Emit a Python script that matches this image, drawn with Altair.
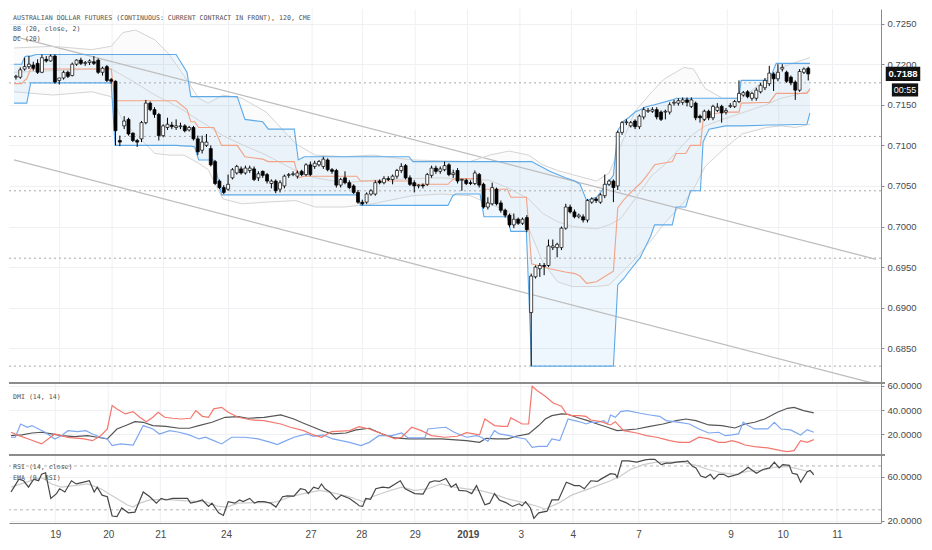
import altair as alt
import pandas as pd

# ---------------- data ----------------
# 120-minute candles: (open, high, low, close)
candles = [
    (.7184, .7187, .7181, .7185), (.7184, .7196, .7182, .7193), (.7194, .7208, .7192, .7197),
    (.7197, .7210, .7194, .7200), (.7199, .7203, .7192, .7195), (.7201, .7206, .7188, .7190),
    (.7190, .7212, .7189, .7208), (.7206, .7210, .7202, .7204), (.7204, .7212, .7203, .7210),
    (.7210, .7212, .7176, .7178), (.7180, .7183, .7175, .7183), (.7183, .7192, .7181, .7190),
    (.7190, .7192, .7183, .7185), (.7186, .7202, .7185, .7200), (.7200, .7206, .7198, .7205),
    (.7205, .7208, .7199, .7201), (.7201, .7204, .7198, .7202), (.7202, .7206, .7199, .7204),
    (.7203, .7210, .7199, .7201), (.7205, .7207, .7188, .7190), (.7190, .7197, .7186, .7195),
    (.7197, .7199, .7178, .7180), (.7181, .7183, .7176, .7179), (.7179, .7180, .7100, .7118),
    (.7106, .7112, .7099, .7104), (.7124, .7136, .7120, .7130), (.7132, .7134, .7112, .7114),
    (.7115, .7116, .7104, .7106), (.7106, .7108, .7098, .7104), (.7108, .7130, .7104, .7128),
    (.7128, .7156, .7126, .7152), (.7152, .7154, .7142, .7144), (.7144, .7147, .7134, .7138),
    (.7138, .7140, .7106, .7112), (.7112, .7126, .7110, .7124), (.7122, .7134, .7119, .7126),
    (.7125, .7129, .7120, .7123), (.7122, .7132, .7119, .7124), (.7123, .7128, .7120, .7124),
    (.7124, .7126, .7116, .7118), (.7119, .7124, .7117, .7122), (.7122, .7124, .7106, .7108),
    (.7108, .7112, .7088, .7092), (.7094, .7112, .7090, .7104), (.7100, .7114, .7098, .7104),
    (.7096, .7100, .7074, .7076), (.7080, .7082, .7051, .7053), (.7056, .7058, .7046, .7048),
    (.7048, .7051, .7040, .7042), (.7046, .7064, .7044, .7052), (.7060, .7072, .7058, .7070),
    (.7066, .7076, .7064, .7074), (.7071, .7074, .7064, .7066), (.7066, .7075, .7064, .7072),
    (.7069, .7075, .7066, .7072), (.7071, .7074, .7056, .7058), (.7060, .7068, .7056, .7065),
    (.7068, .7069, .7060, .7063), (.7064, .7066, .7053, .7056), (.7053, .7058, .7047, .7056),
    (.7056, .7058, .7041, .7044), (.7046, .7057, .7042, .7054), (.7050, .7064, .7047, .7062),
    (.7063, .7066, .7060, .7064), (.7064, .7068, .7062, .7065), (.7062, .7069, .7059, .7066),
    (.7068, .7070, .7062, .7064), (.7064, .7078, .7062, .7076), (.7076, .7080, .7062, .7064),
    (.7074, .7081, .7071, .7078), (.7076, .7082, .7074, .7080), (.7074, .7086, .7071, .7083),
    (.7082, .7084, .7068, .7070), (.7070, .7072, .7065, .7068), (.7069, .7071, .7048, .7051),
    (.7051, .7060, .7048, .7058), (.7060, .7068, .7052, .7054), (.7054, .7057, .7046, .7048),
    (.7050, .7052, .7040, .7042), (.7042, .7045, .7028, .7030), (.7030, .7033, .7026, .7028),
    (.7030, .7042, .7028, .7040), (.7040, .7046, .7038, .7044), (.7040, .7057, .7038, .7054),
    (.7056, .7058, .7052, .7054), (.7054, .7062, .7052, .7059), (.7059, .7062, .7056, .7058),
    (.7058, .7064, .7052, .7062), (.7062, .7071, .7059, .7069), (.7069, .7078, .7066, .7074),
    (.7075, .7077, .7058, .7060), (.7060, .7063, .7050, .7052), (.7054, .7057, .7042, .7050),
    (.7050, .7052, .7047, .7051), (.7051, .7053, .7047, .7050), (.7052, .7066, .7050, .7064),
    (.7063, .7075, .7060, .7072), (.7072, .7075, .7065, .7068), (.7068, .7074, .7065, .7071),
    (.7070, .7080, .7068, .7075), (.7076, .7078, .7062, .7064), (.7064, .7070, .7060, .7066),
    (.7069, .7072, .7053, .7056), (.7057, .7059, .7044, .7058), (.7057, .7059, .7051, .7053),
    (.7054, .7057, .7051, .7053), (.7053, .7069, .7051, .7066), (.7064, .7066, .7048, .7051),
    (.7052, .7054, .7022, .7024), (.7024, .7036, .7021, .7029), (.7028, .7054, .7026, .7048),
    (.7046, .7048, .7026, .7028), (.7029, .7032, .7017, .7020), (.7020, .7022, .7011, .7014),
    (.7014, .7016, .6999, .7002), (.7002, .7016, .6998, .7009), (.7009, .7011, .7002, .7004),
    (.7004, .7011, .7002, .7009), (.7011, .7014, .6993, .6996), (.6894, .6942, .6828, .6939),
    (.6938, .6952, .6936, .6950), (.6948, .6955, .6938, .6952), (.6952, .6955, .6940, .6951),
    (.6952, .6984, .6950, .6976), (.6974, .6984, .6971, .6976), (.6974, .6980, .6962, .6978),
    (.6974, .7000, .6971, .6998), (.6998, .7028, .6996, .7024), (.7024, .7027, .7016, .7018),
    (.7018, .7021, .7010, .7012), (.7012, .7016, .7010, .7014), (.7012, .7015, .7005, .7008),
    (.7008, .7034, .7005, .7032), (.7030, .7036, .7028, .7034), (.7034, .7036, .7029, .7032),
    (.7030, .7041, .7028, .7039), (.7038, .7064, .7035, .7052), (.7052, .7058, .7050, .7056),
    (.7056, .7058, .7030, .7048), (.7050, .7118, .7045, .7116), (.7116, .7130, .7113, .7128),
    (.7128, .7132, .7125, .7129), (.7124, .7130, .7122, .7128), (.7130, .7132, .7120, .7123),
    (.7123, .7138, .7120, .7136), (.7135, .7147, .7132, .7144), (.7142, .7146, .7140, .7143),
    (.7142, .7147, .7140, .7144), (.7144, .7147, .7132, .7135), (.7141, .7143, .7130, .7132),
    (.7141, .7144, .7132, .7142), (.7141, .7153, .7138, .7150), (.7152, .7156, .7149, .7153),
    (.7152, .7158, .7149, .7155), (.7153, .7159, .7150, .7156), (.7156, .7159, .7148, .7153),
    (.7148, .7159, .7146, .7156), (.7152, .7154, .7131, .7134), (.7136, .7138, .7128, .7134),
    (.7132, .7144, .7130, .7142), (.7142, .7144, .7131, .7134), (.7134, .7150, .7131, .7148),
    (.7143, .7152, .7141, .7147), (.7148, .7150, .7128, .7140), (.7141, .7146, .7138, .7143),
    (.7148, .7152, .7146, .7149), (.7148, .7156, .7146, .7154), (.7154, .7180, .7152, .7164),
    (.7162, .7167, .7160, .7165), (.7166, .7168, .7158, .7160), (.7158, .7166, .7155, .7164),
    (.7158, .7171, .7155, .7168), (.7166, .7177, .7164, .7174), (.7171, .7183, .7168, .7180),
    (.7176, .7198, .7173, .7189), (.7188, .7190, .7167, .7182), (.7182, .7200, .7179, .7190),
    (.7194, .7200, .7191, .7196), (.7190, .7192, .7177, .7179), (.7184, .7186, .7174, .7177),
    (.7178, .7180, .7156, .7168), (.7168, .7194, .7166, .7191), (.7190, .7196, .7188, .7194),
    (.7195, .7197, .7180, .7188),
]

# Bollinger Bands (20, close, 2): (bar position, upper, basis, lower)
bb_rows = [
    (-0.45, .7220, .7190, .7166), (8.5, .7222, .7192, .7162), (17.5, .7218, .7194, .7166),
    (22.0, .7222, .7194, .7160), (24.7, .7239, .7186, .7130), (27.6, .7242, .7177, .7114),
    (32.1, .7230, .7162, .7090), (35.4, .7212, .7153, .7088), (38.8, .7186, .7143, .7088),
    (42.2, .7158, .7131, .7078), (44.4, .7152, .7124, .7070), (47.8, .7162, .7112, .7034),
    (52.2, .7158, .7101, .7028), (57.8, .7141, .7088, .7030), (64.6, .7102, .7069, .7032),
    (69.1, .7088, .7060, .7024), (75.8, .7086, .7054, .7024), (82.5, .7088, .7057, .7028),
    (91.5, .7082, .7059, .7038), (98.2, .7081, .7060, .7040), (104.9, .7080, .7058, .7038),
    (109.4, .7088, .7057, .7028), (113.9, .7093, .7047, .7018), (118.4, .7088, .7034, .6998),
    (121.7, .7076, .7016, .6956), (125.1, .7069, .7006, .6932), (128.5, .7064, .7000, .6926),
    (134.1, .7056, .6997, .6926), (137.0, .7066, .7002, .6928), (139.7, .7100, .7010, .6942),
    (143.0, .7142, .7034, .6960), (146.9, .7166, .7063, .6984), (149.8, .7182, .7076, .7004),
    (154.3, .7196, .7102, .7030), (156.5, .7194, .7114, .7046), (159.2, .7170, .7124, .7074),
    (163.2, .7158, .7132, .7094), (167.7, .7158, .7140, .7114), (173.3, .7182, .7150, .7122),
    (176.7, .7196, .7158, .7124), (180.0, .7202, .7162, .7122), (183.4, .7208, .7167, .7126),
]

# Donchian Channel (20): (bar position, upper, lower, basis)
dc_rows = [
    (-0.45, .7200, .7152, .7176), (1.35, .7200, .7152, .7176), (2.0, .7209, .7152, .7180),
    (2.5, .7210, .7152, .7182), (3.4, .7210, .7177, .7194), (4.7, .7212, .7177, .7194),
    (22.0, .7212, .7177, .7194), (22.9, .7212, .7100, .7155), (37.0, .7212, .7100, .7155),
    (39.5, .7190, .7099, .7144), (40.4, .7160, .7099, .7129), (41.3, .7160, .7098, .7129),
    (42.2, .7160, .7082, .7122), (45.7, .7160, .7082, .7122), (47.5, .7160, .7039, .7100),
    (51.1, .7160, .7039, .7100), (52.9, .7132, .7039, .7086), (57.0, .7129, .7039, .7083),
    (58.3, .7120, .7039, .7080), (64.3, .7120, .7039, .7080), (65.2, .7082, .7039, .7060),
    (66.6, .7086, .7039, .7062), (78.7, .7086, .7039, .7062), (79.6, .7086, .7026, .7056),
    (90.8, .7086, .7026, .7056), (91.7, .7080, .7026, .7052), (99.8, .7080, .7026, .7052),
    (100.9, .7080, .7038, .7058), (101.6, .7080, .7040, .7059), (107.2, .7080, .7040, .7059),
    (108.1, .7080, .7012, .7046), (113.5, .7080, .7012, .7046), (114.3, .7080, .6994, .7036),
    (117.9, .7080, .6994, .7036), (119.1, .7080, .6828, .6954), (123.3, .7068, .6828, .6948),
    (126.9, .7060, .6828, .6944), (129.1, .7056, .6828, .6942), (130.3, .7052, .6828, .6939),
    (131.8, .7032, .6828, .6930), (134.1, .7036, .6828, .6932), (135.9, .7048, .6828, .6938),
    (138.0, .7063, .6828, .6945), (139.0, .7118, .6928, .7023), (140.4, .7130, .6936, .7033),
    (141.5, .7134, .6944, .7039), (143.0, .7141, .6954, .7047), (144.2, .7144, .6962, .7053),
    (145.3, .7147, .6974, .7060), (146.6, .7149, .6988, .7069), (147.5, .7150, .7002, .7076),
    (151.6, .7156, .7002, .7080), (152.5, .7158, .7024, .7090), (154.7, .7158, .7024, .7090),
    (155.8, .7158, .7044, .7100), (158.1, .7158, .7044, .7100), (158.7, .7158, .7104, .7130),
    (160.1, .7158, .7120, .7138), (163.9, .7158, .7124, .7141), (167.0, .7158, .7124, .7141),
    (167.5, .7180, .7124, .7152), (174.0, .7180, .7125, .7153), (175.6, .7201, .7125, .7164),
    (182.7, .7201, .7126, .7164), (183.4, .7201, .7140, .7170),
]

# drawn trend channel (bar position, price)
trend_x = [-0.45, 198.65]
trend_upper = [0.72344, 0.69596]
trend_lower = [0.7082, 0.6806]

# dotted horizontal levels
level_lines = [0.7177, 0.7111, 0.7044, 0.6961, 0.6828]

# DMI (14, 14): (bar position, value)
dmi_minus = [
    (0, 21.7), (1.8, 18.9), (4.0, 16.2), (7.0, 12.1), (10.0, 20.3), (13.0, 17.5), (16.7, 16.2),
    (18.6, 14.8), (20.5, 18.9), (22.0, 24.4), (23.1, 43.6), (24.2, 40.9), (26.1, 36.8),
    (27.9, 38.7), (29.4, 34.0), (30.9, 30.4), (32.4, 34.0), (33.6, 38.1), (35.1, 34.0),
    (36.9, 33.2), (38.8, 32.6), (41.0, 33.2), (42.2, 39.5), (43.7, 34.8), (45.1, 34.0),
    (46.3, 40.9), (48.1, 42.2), (49.6, 38.1), (51.9, 34.0), (54.9, 31.8), (57.8, 31.3),
    (61.6, 28.5), (63.8, 25.8), (66.8, 23.0), (69.1, 19.5), (70.9, 17.6), (73.2, 22.2),
    (74.3, 22.5), (77.3, 23.0), (79.5, 26.3), (81.8, 24.4), (84.8, 20.3), (87.7, 16.2),
    (89.2, 17.6), (91.5, 25.8), (93.7, 23.0), (96.0, 18.9), (99.0, 17.6), (101.9, 18.4),
    (104.0, 21.4), (107.0, 19.5), (108.2, 32.6), (109.3, 29.9), (110.4, 27.2), (112.3, 26.6),
    (113.4, 26.6), (114.1, 33.5), (115.3, 31.3), (116.7, 28.5), (118.2, 28.5), (119.0, 59.5),
    (120.1, 56.0), (122.0, 51.3), (123.8, 45.8), (125.7, 43.1), (126.8, 36.8), (127.9, 35.4),
    (129.8, 35.4), (131.3, 34.8), (132.4, 31.8), (134.7, 30.4), (136.9, 27.7), (138.0, 30.4),
    (138.8, 27.2), (139.9, 23.0), (142.9, 21.1), (145.1, 18.9), (147.4, 17.6), (148.9, 16.2),
    (150.4, 14.8), (152.6, 13.4), (154.9, 13.4), (157.1, 17.6), (159.3, 16.2), (161.6, 13.4),
    (163.1, 13.4), (164.6, 14.8), (166.1, 13.4), (167.6, 11.2), (169.8, 9.9), (172.8, 8.8),
    (175.8, 6.6), (177.3, 5.8), (178.8, 6.6), (180.3, 14.8), (181.8, 13.4), (183.3, 15.6),
]
dmi_plus = [
    (0, 17.6), (1.0, 17.6), (2.2, 28.5), (3.7, 25.8), (4.8, 27.2), (6.3, 24.4), (7.8, 21.7),
    (10.0, 16.2), (11.5, 18.9), (13.0, 23.0), (15.2, 22.2), (17.1, 23.0), (18.6, 20.3),
    (20.5, 17.6), (22.0, 16.2), (23.1, 10.7), (25.0, 12.1), (27.9, 11.2), (30.2, 27.2),
    (32.4, 24.4), (33.9, 20.3), (36.2, 23.0), (38.4, 21.7), (40.7, 19.5), (42.9, 16.2),
    (44.4, 17.6), (46.3, 14.8), (48.1, 12.1), (50.4, 17.6), (53.4, 17.6), (56.4, 16.2),
    (59.3, 13.4), (60.8, 11.5), (62.3, 14.0), (64.6, 17.6), (67.6, 20.3), (69.1, 18.4),
    (71.3, 19.5), (73.5, 16.2), (77.3, 13.4), (79.9, 10.7), (81.8, 13.4), (84.0, 18.9),
    (87.0, 18.9), (89.2, 21.1), (90.7, 17.0), (94.5, 17.0), (95.2, 24.4), (96.7, 25.0),
    (99.3, 25.8), (101.2, 21.7), (104.0, 17.6), (106.3, 18.9), (107.4, 17.6), (108.9, 14.3),
    (110.4, 23.0), (111.5, 20.3), (113.8, 18.9), (115.3, 17.6), (117.5, 16.2), (119.0, 9.3),
    (120.5, 10.1), (122.4, 10.1), (123.5, 16.2), (125.3, 14.8), (127.2, 32.6), (128.7, 31.3),
    (130.2, 29.9), (131.3, 28.5), (132.4, 29.9), (133.9, 29.9), (135.4, 31.3), (136.2, 28.5),
    (136.9, 35.9), (138.0, 34.0), (139.2, 38.7), (140.7, 39.5), (143.7, 37.3), (145.9, 35.9),
    (148.1, 34.8), (149.6, 31.3), (152.6, 29.9), (154.9, 28.5), (157.1, 24.4), (159.3, 21.1),
    (161.6, 21.7), (163.1, 18.9), (164.6, 19.5), (166.1, 20.3), (167.2, 29.9), (168.3, 27.2),
    (169.8, 24.4), (172.8, 24.4), (174.3, 29.9), (175.8, 24.4), (178.0, 23.6), (180.3, 19.5),
    (181.8, 23.9), (183.3, 21.7),
]
dmi_adx = [
    (0, 18.9), (2.5, 19.5), (4.8, 21.1), (7.0, 21.7), (9.3, 20.3), (11.5, 18.9), (14.5, 18.1),
    (17.5, 18.9), (19.7, 17.6), (22.0, 16.2), (24.2, 24.4), (26.5, 27.7), (28.3, 30.4),
    (30.2, 29.9), (32.4, 27.2), (35.4, 26.6), (38.4, 25.0), (40.7, 25.0), (42.9, 27.2),
    (45.9, 29.9), (48.9, 34.0), (51.9, 34.6), (54.1, 33.2), (57.8, 34.0), (61.6, 35.9),
    (64.6, 32.6), (66.8, 29.1), (69.1, 25.8), (71.3, 22.5), (73.5, 20.3), (76.5, 21.1),
    (78.8, 23.6), (81.8, 25.0), (84.8, 20.3), (87.7, 17.0), (90.7, 16.2), (94.5, 16.2),
    (98.2, 16.2), (104.0, 14.8), (107.0, 13.4), (108.5, 16.7), (110.8, 16.2), (113.4, 16.2),
    (115.3, 18.4), (118.2, 20.3), (120.5, 27.2), (122.0, 32.6), (123.5, 35.4), (125.7, 36.8),
    (127.2, 36.5), (129.1, 34.0), (131.7, 31.3), (133.9, 28.5), (136.2, 25.8), (138.4, 23.0),
    (140.7, 23.6), (142.9, 24.4), (145.9, 26.6), (148.9, 28.5), (151.9, 31.3), (154.1, 32.6),
    (156.4, 31.3), (159.3, 27.7), (162.3, 27.2), (165.3, 25.2), (167.6, 28.5), (169.8, 29.9),
    (172.1, 32.6), (175.0, 38.1), (177.3, 41.4), (178.8, 42.2), (181.0, 39.5), (183.3, 37.6),
]

# RSI (14, close) and EMA (9, RSI)
rsi_line = [
    (0, 46.3), (0.7, 50.7), (1.8, 58.0), (2.9, 56.5), (4.0, 50.7), (5.2, 58.0), (6.3, 56.5),
    (7.0, 62.4), (7.9, 63.8), (9.1, 40.4), (10.4, 44.8), (11.1, 49.2), (12.3, 46.3),
    (13.8, 56.5), (14.9, 53.6), (16.4, 55.1), (17.9, 56.5), (19.0, 46.3), (19.7, 50.7),
    (20.8, 43.4), (22.0, 41.9), (23.1, 24.4), (24.2, 23.8), (25.3, 31.7), (26.8, 27.3),
    (28.3, 27.9), (30.2, 46.3), (31.7, 41.9), (33.2, 36.1), (34.3, 40.4), (35.4, 39.0),
    (36.9, 40.4), (38.4, 40.4), (40.3, 40.4), (41.0, 36.1), (42.5, 37.5), (43.7, 39.0),
    (45.1, 33.1), (45.9, 36.1), (47.4, 27.3), (48.5, 24.9), (49.6, 37.5), (51.1, 36.1),
    (52.2, 39.0), (53.0, 37.5), (54.5, 40.4), (55.6, 36.1), (56.4, 37.5), (57.8, 37.5),
    (59.3, 36.1), (60.5, 32.5), (62.0, 41.9), (63.1, 42.8), (64.6, 42.5), (66.1, 49.2),
    (67.2, 48.3), (67.9, 44.8), (69.1, 50.7), (70.2, 49.2), (70.9, 53.6), (71.7, 49.2),
    (72.8, 46.3), (74.3, 39.6), (75.4, 43.4), (77.3, 40.4), (78.8, 36.1), (79.5, 33.7),
    (80.3, 33.1), (81.0, 40.4), (82.1, 39.6), (83.3, 49.2), (84.8, 50.7), (86.3, 50.1),
    (87.7, 53.6), (88.9, 56.5), (90.0, 49.2), (92.2, 44.8), (94.1, 44.3), (95.6, 55.1),
    (96.7, 56.5), (97.8, 55.9), (99.3, 58.6), (100.5, 50.7), (101.6, 53.6), (102.3, 47.8),
    (104.0, 47.2), (105.2, 44.8), (106.3, 52.1), (108.2, 34.6), (109.3, 36.1), (110.4, 44.8),
    (111.5, 39.0), (113.0, 36.6), (114.5, 33.1), (116.0, 35.5), (116.7, 33.7), (117.5, 37.5),
    (118.6, 31.7), (119.4, 22.3), (120.5, 27.3), (122.4, 28.8), (123.5, 39.0), (125.0, 39.0),
    (126.8, 55.1), (128.7, 52.1), (129.8, 52.1), (130.9, 49.2), (132.4, 56.5), (133.9, 55.9),
    (134.7, 58.0), (136.9, 63.0), (138.0, 62.4), (138.4, 59.5), (139.5, 74.7), (141.0, 74.7),
    (142.9, 73.5), (144.8, 75.5), (145.9, 76.1), (147.0, 76.1), (148.5, 71.2), (149.6, 72.6),
    (150.7, 72.6), (151.9, 73.5), (153.7, 74.1), (154.5, 74.7), (155.6, 69.7), (156.4, 68.2),
    (157.5, 60.9), (158.6, 59.5), (159.7, 62.4), (160.5, 58.0), (161.6, 62.4), (162.7, 62.4),
    (163.8, 60.0), (166.1, 62.4), (167.2, 65.3), (168.3, 68.8), (170.2, 63.3), (171.7, 66.8),
    (173.2, 68.2), (174.3, 73.5), (175.4, 68.2), (176.2, 71.2), (177.7, 70.6), (178.4, 63.3),
    (179.5, 62.4), (180.3, 55.1), (181.8, 64.7), (182.5, 65.9), (183.3, 61.8),
]
rsi_ema = [
    (0, 50.7), (3.3, 55.1), (7.0, 59.5), (9.3, 53.6), (11.5, 50.7), (14.5, 52.1), (17.5, 53.6),
    (20.5, 49.2), (23.5, 41.9), (26.5, 34.6), (27.9, 32.5), (29.4, 36.1), (31.7, 39.0),
    (35.4, 39.6), (39.9, 38.1), (44.4, 37.5), (47.4, 33.1), (49.3, 32.5), (51.9, 36.1),
    (56.4, 36.6), (59.3, 36.6), (60.8, 37.5), (63.8, 41.9), (66.8, 44.8), (70.6, 47.8),
    (74.3, 44.8), (77.3, 41.9), (80.3, 37.5), (82.5, 41.9), (85.5, 46.3), (89.2, 50.7),
    (92.2, 47.8), (95.2, 49.2), (98.2, 53.6), (101.2, 50.7), (104.0, 49.2), (107.0, 47.8),
    (110.0, 44.8), (113.0, 40.4), (116.0, 37.5), (119.0, 34.6), (122.0, 30.8), (125.0, 36.1),
    (128.0, 43.4), (131.0, 47.8), (133.9, 52.1), (136.9, 56.5), (139.2, 60.9), (141.4, 66.8),
    (144.4, 71.2), (147.4, 73.5), (150.4, 73.5), (153.4, 73.5), (156.4, 70.6), (159.3, 66.8),
    (162.3, 63.8), (165.3, 62.4), (168.3, 65.3), (171.3, 65.9), (174.3, 68.8), (177.3, 69.7),
    (180.3, 66.8), (183.3, 63.8),
]
rsi_levels = [70, 30]

day_labels = ["19", "20", "21", "24", "27", "28", "29", "2019", "3", "4", "7", "9", "10", "11"]
day_pos = [10.1, 22.2, 34.1, 49.1, 68.4, 80.0, 92.2, 104.3, 116.4, 128.3, 143.3, 164.3, 176.2, 188.6]

price_ticks = [0.685, 0.690, 0.695, 0.700, 0.705, 0.710, 0.715, 0.720, 0.725]
dmi_ticks = [20, 40, 60]
rsi_ticks = [20, 60]

header_lines = [
    "AUSTRALIAN DOLLAR FUTURES (CONTINUOUS: CURRENT CONTRACT IN FRONT), 120, CME",
    "BB (20, close, 2)",
    "DC (20)",
]
countdown = "00:55"

# ---------------- chart ----------------
W, HM, HD, HR = 872, 374, 72, 68
GRID = "#eef0f3"
AX = "#8a8a8a"
LBL = "#4a4a4a"
FONT = "Liberation Sans"
MONO = "DejaVu Sans Mono"

xs = alt.Scale(domain=[-0.45, 198.65], nice=False, zero=False)
ys_main = alt.Scale(domain=[0.68072, 0.7268], nice=False, zero=False)
ys_dmi = alt.Scale(domain=[3, 62.2], nice=False, zero=False)
ys_rsi = alt.Scale(domain=[18.0, 80], nice=False, zero=False)


def yaxis(vals):
    return alt.Axis(orient="right", values=vals, format=".4f", grid=True, gridColor=GRID,
                    domain=True, domainColor=AX, ticks=True, tickColor=AX, tickSize=3,
                    labelFont=FONT, labelFontSize=9.5, labelColor=LBL, labelPadding=3,
                    title=None)


main_ax, dmi_ax, rsi_ax = yaxis(price_ticks), yaxis(dmi_ticks), yaxis(rsi_ticks)

lab_expr = ("[" + ",".join("'%s'" % s for s in day_labels) + "][indexof(["
            + ",".join(str(p) for p in day_pos) + "], datum.value)]")
bold_pos = day_pos[day_labels.index("2019")]
rsi_xaxis = alt.Axis(values=day_pos, labelExpr=lab_expr, grid=False, ticks=False, domain=True,
                     domainColor=AX, labelFont=FONT, labelFontSize=10, labelColor=LBL,
                     labelFontWeight={"condition": {"test": "datum.value == %s" % bold_pos,
                                                    "value": "bold"}, "value": "normal"},
                     labelPadding=6, labelFlush=False, labelOverlap=False, title=None)


def XN(f="x"):
    return alt.X(f + ":Q", scale=xs, axis=None)


def XR(f="x"):
    return alt.X(f + ":Q", scale=xs, axis=rsi_xaxis)


def YM(f):
    return alt.Y(f + ":Q", scale=ys_main, axis=main_ax)


def YD(f):
    return alt.Y(f + ":Q", scale=ys_dmi, axis=dmi_ax)


def YR(f):
    return alt.Y(f + ":Q", scale=ys_rsi, axis=rsi_ax)


cdf = pd.DataFrame(candles, columns=["o", "h", "l", "c"])
cdf["i"] = range(len(cdf))
bbdf = pd.DataFrame(bb_rows, columns=["x", "up", "mid", "lo"])
dcdf = pd.DataFrame(dc_rows, columns=["x", "up", "lo", "mid"])
daydf = pd.DataFrame({"x": day_pos, "lab": day_labels})
lvldf = pd.DataFrame({"p": level_lines})
trdf = pd.DataFrame({"x": trend_x, "u": trend_upper, "l": trend_lower})
lastdf = pd.DataFrame({"p": [candles[-1][3]], "t": ["%.4f" % candles[-1][3]], "t2": [countdown]})


def txt(s, y, size=6.6):
    return alt.Chart(pd.DataFrame({"t": [s]})).mark_text(
        align="left", baseline="middle", font=MONO, fontSize=size, color="#4f4f4f"
    ).encode(x=alt.value(4), y=alt.value(y), text="t:N")


def sep():
    return alt.Chart(pd.DataFrame({"a": [0]})).mark_rule(color="#8c8c8c", strokeWidth=2).encode(
        x=alt.value(0), x2=alt.value(W + 4), y=alt.value(0))


# main panel
main_layers = [
    alt.Chart(daydf).mark_rule(color=GRID, strokeWidth=1).encode(x=XN()),
    alt.Chart(bbdf).mark_area(color="#9e9e9e", opacity=0.045).encode(x=XN(), y=YM("up"), y2="lo:Q"),
    alt.Chart(dcdf).mark_area(color="#2196f3", opacity=0.075).encode(x=XN(), y=YM("up"), y2="lo:Q"),
    alt.Chart(lvldf).mark_rule(color="#a8a8a8", strokeDash=[2, 3], strokeWidth=1).encode(y=YM("p")),
    alt.Chart(trdf).mark_line(color="#bdbdbd", strokeWidth=1.3, clip=True).encode(x=XN(), y=YM("u")),
    alt.Chart(trdf).mark_line(color="#bdbdbd", strokeWidth=1.3, clip=True).encode(x=XN(), y=YM("l")),
]
for f in ["up", "mid", "lo"]:
    main_layers.append(alt.Chart(bbdf).mark_line(color="#d4d4d4", strokeWidth=1).encode(x=XN(), y=YM(f)))
for f in ["up", "lo"]:
    main_layers.append(alt.Chart(dcdf).mark_line(color="#5eaae9", strokeWidth=1.1).encode(x=XN(), y=YM(f)))
main_layers.append(alt.Chart(dcdf).mark_line(color="#f3a285", strokeWidth=1.1).encode(x=XN(), y=YM("mid")))
main_layers += [
    alt.Chart(cdf).mark_rule(color="#000000", strokeWidth=1).encode(x=XN("i"), y=YM("l"), y2="h:Q"),
    alt.Chart(cdf).mark_bar(size=3, stroke="#000000", strokeWidth=0.7).encode(
        x=XN("i"), y=YM("o"), y2="c:Q",
        fill=alt.condition("datum.c >= datum.o", alt.value("#ffffff"), alt.value("#000000"))),
    txt(header_lines[0], 9), txt(header_lines[1], 20), txt(header_lines[2], 30),
    alt.Chart(lastdf).mark_point(shape="M-1,-0.41H1V0.41H-1Z", size=1190, filled=True,
                                 color="#131313", opacity=1).encode(x=alt.value(W + 22), y=YM("p")),
    alt.Chart(lastdf).mark_text(color="#ffffff", font=FONT, fontSize=9.5, fontWeight="bold").encode(
        x=alt.value(W + 22), y=YM("p"), text="t:N"),
    alt.Chart(lastdf).mark_point(shape="M-1,-0.5H1V0.5H-1Z", size=690, filled=True, color="#131313",
                                 opacity=1, yOffset=16).encode(x=alt.value(W + 24), y=YM("p")),
    alt.Chart(lastdf).mark_text(color="#ffffff", font=FONT, fontSize=9, yOffset=16).encode(
        x=alt.value(W + 24), y=YM("p"), text="t2:N"),
]
main = alt.layer(*main_layers).properties(width=W, height=HM)

# DMI panel
mdf = pd.DataFrame(dmi_minus, columns=["x", "v"])
pdf_ = pd.DataFrame(dmi_plus, columns=["x", "v"])
adf = pd.DataFrame(dmi_adx, columns=["x", "v"])
dmi = alt.layer(
    alt.Chart(daydf).mark_rule(color=GRID, strokeWidth=1).encode(x=XN()),
    alt.Chart(adf).mark_line(color="#555555", strokeWidth=1.2).encode(x=XN(), y=YD("v")),
    alt.Chart(pdf_).mark_line(color="#7ea7f0", strokeWidth=1.2).encode(x=XN(), y=YD("v")),
    alt.Chart(mdf).mark_line(color="#f3776d", strokeWidth=1.2).encode(x=XN(), y=YD("v")),
    txt("DMI (14, 14)", 14),
    sep(),
).properties(width=W, height=HD)

# RSI panel
rdf = pd.DataFrame(rsi_line, columns=["x", "v"])
edf = pd.DataFrame(rsi_ema, columns=["x", "v"])
rl = pd.DataFrame({"v": rsi_levels})
rsi = alt.layer(
    alt.Chart(daydf).mark_rule(color=GRID, strokeWidth=1).encode(x=XR()),
    alt.Chart(rl).mark_rule(color="#b5b5b5", strokeDash=[3, 3], strokeWidth=1).encode(y=YR("v")),
    alt.Chart(edf).mark_line(color="#cccccc", strokeWidth=1.2).encode(x=XR(), y=YR("v")),
    alt.Chart(rdf).mark_line(color="#474747", strokeWidth=1.2).encode(x=XR(), y=YR("v")),
    txt("RSI (14, close)", 12),
    txt("EMA (9, RSI)", 23),
    sep(),
).properties(width=W, height=HR)

chart = alt.vconcat(main, dmi, rsi, spacing=0, bounds="flush").resolve_scale(
    x="independent", y="independent"
).properties(
    padding={"left": 0, "top": 0, "right": 0, "bottom": 0}, background="#ffffff"
).configure_view(stroke=None)

chart.save("out.html", embed_options={"renderer": "svg", "actions": False})
